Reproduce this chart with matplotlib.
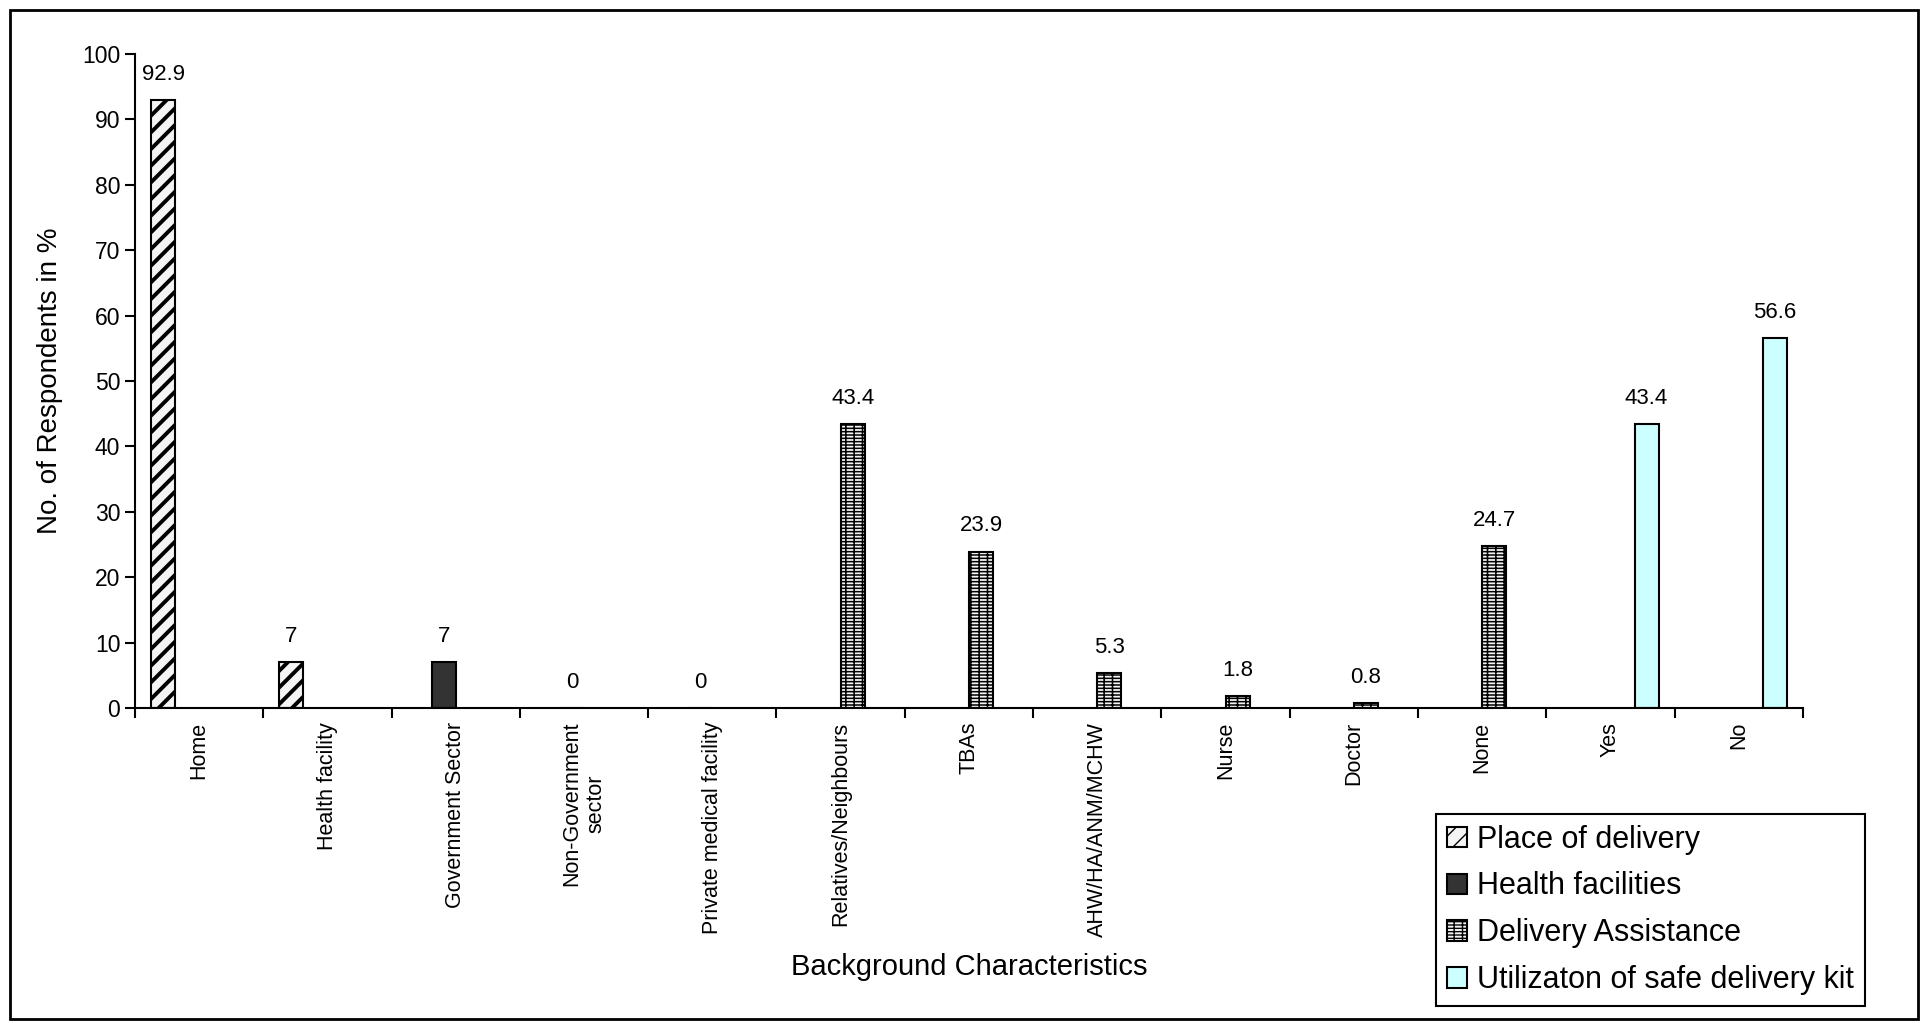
import numpy as np
import matplotlib.pyplot as plt
from matplotlib.patches import Rectangle

plt.rcParams['font.family'] = ['Liberation Sans', 'DejaVu Sans']

categories = ["Home", "Health facility", "Government Sector", "Non-Government\nsector",
              "Private medical facility", "Relatives/Neighbours", "TBAs", "AHW/HA/ANM/MCHW",
              "Nurse", "Doctor", "None", "Yes", "No"]
nan = np.nan
place_of_delivery = [92.9, 7, nan, nan, nan, nan, nan, nan, nan, nan, nan, nan, nan]
health_facilities = [nan, nan, 7, 0, 0, nan, nan, nan, nan, nan, nan, nan, nan]
delivery_assistance = [nan, nan, nan, nan, nan, 43.4, 23.9, 5.3, 1.8, 0.8, 24.7, nan, nan]
safe_kit = [nan, nan, nan, nan, nan, nan, nan, nan, nan, nan, nan, 43.4, 56.6]

series = [
    ("Place of delivery", place_of_delivery, dict(color="#F4F4F4", hatch="//"), 2.8),
    ("Health facilities", health_facilities, dict(color="#333333"), 1.0),
    ("Delivery Assistance", delivery_assistance, dict(color="#F4F4F4", hatch="-----||"), 1.1),
    ("Utilizaton of safe delivery kit", safe_kit, dict(color="#CCFFFF"), 1.0),
]

fig = plt.figure(figsize=(19.25, 10.23), dpi=100)
ax = fig.add_axes([0.0701, 0.3079, 0.8665, 0.6393])

x = np.arange(len(categories))
w = 0.1875
for i, (name, vals, style, hlw) in enumerate(series):
    with plt.rc_context({'hatch.linewidth': hlw}):
        ax.bar(x + (i - 1.5) * w, vals, w, edgecolor="black", linewidth=1.5,
               label=name, **style)
    for xi, v in zip(x + (i - 1.5) * w, vals):
        if not np.isnan(v):
            ax.annotate(f"{v:g}", (xi, v), xytext=(0, 11), textcoords="offset points",
                        ha="center", va="bottom", fontsize=16)

ax.set_xlim(-0.5, len(categories) - 0.5)
ax.set_ylim(0, 100)
ax.set_yticks(range(0, 101, 10))
ax.set_xticks(np.arange(-0.5, len(categories)), minor=False)
ax.set_xticklabels([])
ax.set_xticks(x, minor=True)
ax.set_xticklabels(categories, minor=True, rotation=90, ha="center", va="top", fontsize=15.5)
ax.tick_params(axis="x", which="minor", length=0, pad=10)
ax.tick_params(axis="x", which="major", length=7, width=1.5, direction="out")
ax.tick_params(axis="y", length=7, width=1.5, direction="out", labelsize=16.5)
for s in ["top", "right"]:
    ax.spines[s].set_visible(False)
for s in ["left", "bottom"]:
    ax.spines[s].set_linewidth(1.5)

ax.set_ylabel("No. of Respondents in %", fontsize=20, labelpad=14)
ax.set_xlabel("Background Characteristics", fontsize=21)
ax.xaxis.set_label_coords(0.5, -0.375)

leg = fig.legend(loc="upper left", bbox_to_anchor=(1436 / 1925, 1 - 814 / 1023),
                 bbox_transform=fig.transFigure, borderaxespad=0, fontsize=22,
                 fancybox=False, edgecolor="black", framealpha=1,
                 handlelength=0.65, handleheight=0.65, handletextpad=0.35,
                 labelspacing=0.55, borderpad=0.35)
leg.get_frame().set_linewidth(1.5)

fig.patches.append(Rectangle((10 / 1925, 4 / 1023), 1908 / 1925, 1009 / 1023,
                             transform=fig.transFigure, fill=False,
                             edgecolor="black", linewidth=2))

fig.savefig("out.png", dpi=100)
